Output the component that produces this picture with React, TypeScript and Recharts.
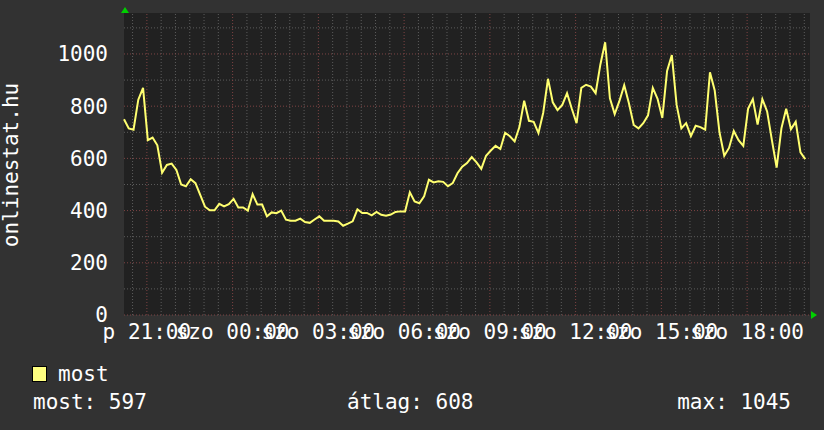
import React from "react"
import { LineChart, Line, XAxis, YAxis, ReferenceLine, CartesianGrid } from "recharts"

const FONT = '"DejaVu Sans Mono", "Liberation Mono", monospace'
const FS = 21

// 10 perces minták, 20:12-től (perc éjfél óta)
const startMinute = 20 * 60 + 12
const stepMinutes = 10

const visitors = [
  750, 715, 710, 825, 870, 670, 680, 650, 545, 575,
  580, 556, 500, 493, 520, 505, 460, 415, 401, 401,
  426, 416, 425, 445, 412, 412, 400, 463, 423, 423,
  378, 393, 390, 400, 365, 361, 361, 369, 356, 353,
  366, 378, 361, 361, 361, 358, 342, 350, 359, 405,
  391, 391, 382, 395, 384, 380, 385, 395, 397, 397,
  470, 435, 428, 455, 518, 508, 512, 510, 493, 505,
  543, 568, 582, 605, 585, 560, 610, 630, 648, 636,
  698, 685, 665, 720, 821, 744, 740, 697, 775, 905,
  815, 785, 805, 850, 790, 735, 870, 882, 875, 850,
  960, 1045, 830, 770, 820, 880, 810, 728, 715, 735,
  765, 870, 828, 755, 935, 996, 805, 715, 735, 685,
  725, 720, 710, 930, 860, 700, 610, 640, 705, 670,
  648, 790, 827, 730, 827, 780, 670, 565, 715, 790,
  712, 740, 623, 597,
]

const xTickMinutes = [1260, 1440, 1620, 1800, 1980, 2160, 2340, 2520]
const xTickLabels = ["p 21:00", "szo 00:00", "szo 03:00", "szo 06:00", "szo 09:00", "szo 12:00", "szo 15:00", "szo 18:00"]

const yTicks = [0, 200, 400, 600, 800, 1000]
const yMinorTicks = [100, 300, 500, 700, 900, 1100]
const yMax = 1157

const seriesName = "most"
const summaryLabels = ["most: 597", "átlag: 608", "max: 1045"]
const axisTitle = "onlinestat.hu"

const data = visitors.map((v, i) => ({ t: startMinute + i * stepMinutes, v }))

// félórás segédrács
const xMinorMinutes: number[] = []
for (let m = 1230; m < startMinute + 1440; m += 30) {
  if (!xTickMinutes.includes(m)) xMinorMinutes.push(m)
}

const MINOR = "#5c5c5c"
const MAJOR = "#7e4444"
const tickStyle = { fill: "#ffffff", fontSize: FS, fontFamily: FONT }

export default function App() {
  return (
    <div style={{ position: "absolute", left: 0, top: 0, width: 824, height: 430, background: "#323232" }}>
      <LineChart width={824} height={430} data={data} margin={{ top: 13, right: 14, bottom: 75, left: 0 }}>
        <CartesianGrid horizontal={false} vertical={false} fill="#212121" stroke="none" />
        <XAxis
          type="number"
          dataKey="t"
          domain={[startMinute, startMinute + 1440]}
          ticks={xTickMinutes}
          interval={0}
          tickFormatter={(m: number) => xTickLabels[xTickMinutes.indexOf(m)] ?? ""}
          axisLine={false}
          tickLine={false}
          tickSize={0}
          tickMargin={9}
          height={40}
          tick={tickStyle}
        />
        <YAxis
          type="number"
          domain={[0, yMax]}
          ticks={yTicks}
          interval={0}
          axisLine={false}
          tickLine={false}
          tickSize={0}
          tickMargin={16}
          width={124}
          tick={tickStyle}
        />
        {yMinorTicks.map((y) => (
          <ReferenceLine key={"ym" + y} y={y} stroke={MINOR} strokeDasharray="1 2" />
        ))}
        {xMinorMinutes.map((x) => (
          <ReferenceLine key={"xm" + x} x={x} stroke={MINOR} strokeDasharray="1 2" />
        ))}
        {yTicks.map((y) => (
          <ReferenceLine key={"yM" + y} y={y} stroke={MAJOR} strokeDasharray="1 2" />
        ))}
        {xTickMinutes.map((x) => (
          <ReferenceLine key={"xM" + x} x={x} stroke={MAJOR} strokeDasharray="1 2" />
        ))}
        <Line
          type="linear"
          dataKey="v"
          stroke="#ffff70"
          strokeWidth={2}
          dot={false}
          activeDot={false}
          isAnimationActive={false}
        />
      </LineChart>
      <svg width={824} height={430} style={{ position: "absolute", left: 0, top: 0, pointerEvents: "none" }}>
        <polygon points="121,13 129,13 125,7" fill="#00d000" />
        <polygon points="811,311 811,319 817,315" fill="#00d000" />
        <text x={18} y={165} transform="rotate(-90 18 165)" textAnchor="middle" fill="#fff" fontSize={FS} fontFamily={FONT}>
          {axisTitle}
        </text>
        <rect x={32.5} y={366.5} width={14} height={15} fill="#ffff80" stroke="#000" strokeWidth={1} />
        <text x={58} y={381} fill="#fff" fontSize={FS} fontFamily={FONT}>{seriesName}</text>
        <text x={33} y={409} fill="#fff" fontSize={FS} fontFamily={FONT}>{summaryLabels[0]}</text>
        <text x={347} y={409} fill="#fff" fontSize={FS} fontFamily={FONT}>{summaryLabels[1]}</text>
        <text x={791} y={409} textAnchor="end" fill="#fff" fontSize={FS} fontFamily={FONT}>{summaryLabels[2]}</text>
      </svg>
    </div>
  )
}
